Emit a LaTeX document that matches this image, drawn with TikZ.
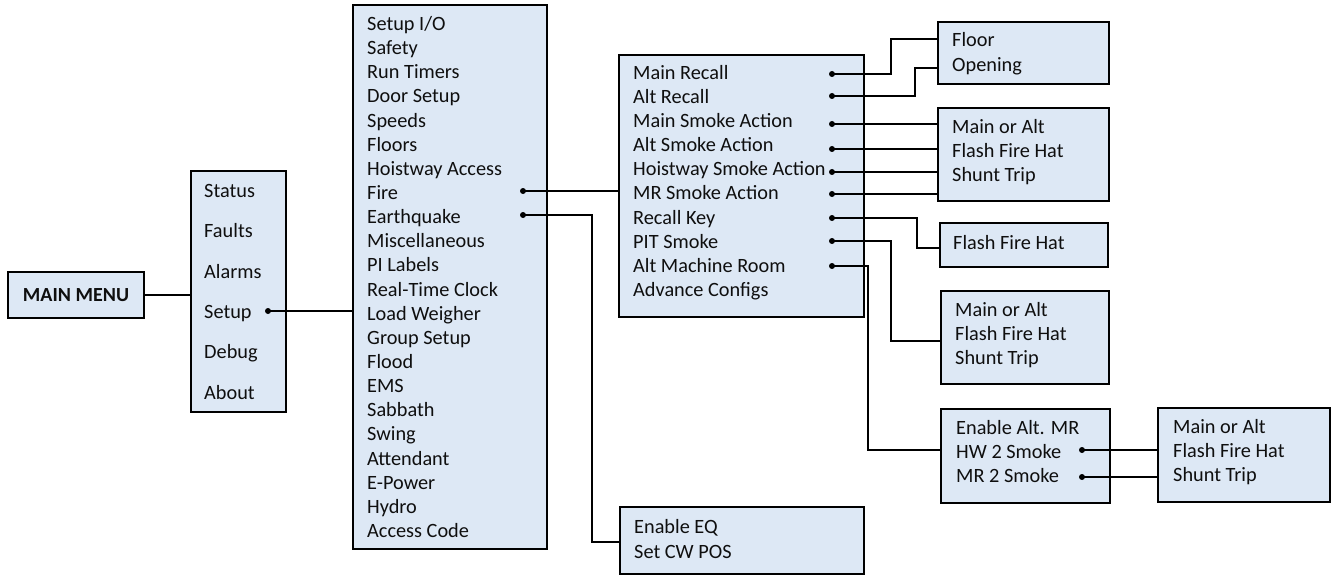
\documentclass[tikz,border=0pt]{standalone}
\usepackage{fontspec}
\setmainfont{Carlito}
\definecolor{boxfill}{RGB}{221,232,245}
\definecolor{ink}{RGB}{15,15,15}
\begin{document}
\begin{tikzpicture}[x=1pt,y=-1pt,
  box/.style={draw=black, fill=boxfill, line width=2pt, inner sep=0pt, rectangle, anchor=north west},
  conn/.style={line width=2pt, line join=miter},
  item/.style={anchor=base west, inner sep=0pt, text=ink, font=\fontsize{20.3}{24}\selectfont}]
\useasboundingbox (0,0) rectangle (1331,575);
% boxes
\node[box, minimum width=136pt, minimum height=46pt] (mainmenu) at (7,271) {};
\node[box, minimum width=95pt, minimum height=241pt] (menu) at (190,170) {};
\node[box, minimum width=194pt, minimum height=544pt] (setupbox) at (352,4) {};
\node[box, minimum width=245pt, minimum height=262pt] (firebox) at (618,54) {};
\node[box, minimum width=171pt, minimum height=62pt] (recallbox) at (937,21) {};
\node[box, minimum width=171pt, minimum height=93pt] (smokebox) at (937,107) {};
\node[box, minimum width=168pt, minimum height=44pt] (fhbox) at (939,222) {};
\node[box, minimum width=168pt, minimum height=93pt] (pitbox) at (940,290) {};
\node[box, minimum width=169pt, minimum height=94pt] (altmrbox) at (940,408) {};
\node[box, minimum width=172pt, minimum height=94pt] (hwbox) at (1157,407) {};
\node[box, minimum width=244pt, minimum height=67pt] (eqbox) at (619,506) {};
% texts
\node[anchor=center, inner sep=0pt, text=ink, font=\fontsize{20}{24}\selectfont\bfseries] (tmain) at (mainmenu.center) {MAIN MENU};
\foreach \t/\yy [count=\i] in {Status/191, Faults/231, Alarms/272, Setup/312, Debug/352, About/393}
  \node[item] (m\i) at (204,\yy+6.5) {\t};
\foreach \t [count=\i from 0] in {Setup I/O, Safety, Run Timers, Door Setup, Speeds, Floors, Hoistway Access, Fire, Earthquake, Miscellaneous, PI Labels, Real-Time Clock, Load Weigher, Group Setup, Flood, EMS, Sabbath, Swing, Attendant, E-Power, Hydro, Access Code}
  \node[item] (s\i) at (367,30.5+24.14*\i) {\t};
\foreach \t [count=\i from 0] in {Main Recall, Alt Recall, Main Smoke Action, Alt Smoke Action, Hoistway Smoke Action, MR Smoke Action, Recall Key, PIT Smoke, Alt Machine Room, Advance Configs}
  \node[item] (f\i) at (633,79.5+24.1*\i) {\t};
\node[item] (r1) at (952,46.5) {Floor};
\node[item] (r2) at (952,71.5) {Opening};
\foreach \t [count=\i from 0] in {Main or Alt, Flash Fire Hat, Shunt Trip}{
  \node[item] (k\i) at (952,133.5+24*\i) {\t};
  \node[item] (p\i) at (955,316.5+24*\i) {\t};
  \node[item] (h\i) at (1173,433.5+24*\i) {\t};
}
\node[item] (fh) at (953,249.5) {Flash Fire Hat};
\foreach \t [count=\i from 0] in {Enable Alt. MR, HW 2 Smoke, MR 2 Smoke}
  \node[item] (a\i) at (956,434.5+24*\i) {\t};
\node[item] (e1) at (634,533.5) {Enable EQ};
\node[item] (e2) at (634,558.5) {Set CW POS};
% dot coordinates
\coordinate (dSetup) at (268,311);
\coordinate (dFire) at (523,191);
\coordinate (dEQ) at (523,215);
\coordinate (dMainRecall) at (832,74);
\coordinate (dAltRecall) at (832,96);
\coordinate (dMS) at (832,124);
\coordinate (dAS) at (832,149);
\coordinate (dHS) at (832,172);
\coordinate (dRS) at (832,194);
\coordinate (dRK) at (832,218);
\coordinate (dPIT) at (832,241);
\coordinate (dAMR) at (832,266);
\coordinate (dHW) at (1082,450);
\coordinate (dMR2) at (1082,477);
% connectors
\draw[conn] (mainmenu.east) -- (mainmenu.east -| menu.west);
\draw[conn] (dSetup) -- (dSetup -| setupbox.west);
\draw[conn] (dFire) -- (dFire -| firebox.west);
\draw[conn] (dEQ) -- ++(69,0) |- ([yshift=-1.5pt]eqbox.west);
\draw[conn] (dMainRecall) -- ++(59,0) |- ([yshift=14pt]recallbox.west);
\draw[conn] (dAltRecall) -- ++(83,0) |- ([yshift=-15pt]recallbox.west);
\draw[conn] (dMS) -- (dMS -| smokebox.west);
\draw[conn] (dAS) -- (dAS -| smokebox.west);
\draw[conn] (dHS) -- (dHS -| smokebox.west);
\draw[conn] (dRS) -- (dRS -| smokebox.west);
\draw[conn] (dRK) -- ++(85,0) |- ([yshift=-3pt]fhbox.west);
\draw[conn] (dPIT) -- ++(59,0) |- ([yshift=-3.5pt]pitbox.west);
\draw[conn] (dAMR) -- ++(36,0) |- ([yshift=6pt]altmrbox.west);
\draw[conn] (dHW) -- (dHW -| hwbox.west);
\draw[conn] (dMR2) -- (dMR2 -| hwbox.west);
% dots
\foreach \d in {dSetup,dFire,dEQ,dMainRecall,dAltRecall,dMS,dAS,dHS,dRS,dRK,dPIT,dAMR,dHW,dMR2}
  \fill (\d) circle (3pt);
\end{tikzpicture}
\end{document}
